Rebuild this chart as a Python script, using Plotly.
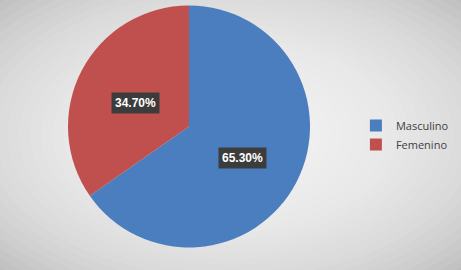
import math
import plotly.graph_objects as go

labels = ["Masculino", "Femenino"]
values = [65.30, 34.70]
colors = ["#4A7EBF", "#C0504D"]

W, H = 461, 270
cx, cy, R = 189.0, 126.5, 121.0  # pie centre / radius in pixels (from top-left)

fig = go.Figure()
fig.add_trace(go.Pie(
    labels=labels, values=values, sort=False, direction="clockwise", rotation=0,
    marker=dict(colors=colors, line=dict(width=0)),
    textinfo="none", hoverinfo="skip",
    domain=dict(x=[(cx - R) / W, (cx + R) / W], y=[(H - cy - R) / H, (H - cy + R) / H]),
))

# background radial gradient (white centre -> grey edges)
shapes = []
n = 30
for i in range(n):
    k = 1.0 - i / n
    hx, hy = 0.5 * 1.45 * k, 0.5 * 1.45 * k
    shapes.append(dict(type="circle", xref="paper", yref="paper",
                       x0=0.5 - hx, x1=0.5 + hx, y0=0.5 - hy, y1=0.5 + hy,
                       fillcolor="white", opacity=0.08, line=dict(width=0), layer="below"))

# data labels with dark boxes, placed at mid-angle of each slice
annotations = []
total = sum(values)
start = 0.0
for lab, v in zip(labels, values):
    mid = (start + v / 2) / total * 2 * math.pi
    start += v
    px = cx + 0.5 * R * math.sin(mid)
    py = cy - 0.5 * R * math.cos(mid) + 4
    annotations.append(dict(x=px / W, y=1 - py / H, xref="paper", yref="paper",
                            xanchor="center", yanchor="middle",
                            text=f"<b>{v:.2f}%</b>", showarrow=False,
                            font=dict(color="white", size=12, family="Liberation Sans"),
                            bgcolor="#3C3C3C", borderpad=3))

fig.update_layout(
    width=W, height=H, margin=dict(l=0, r=0, t=0, b=0, autoexpand=False),
    paper_bgcolor="#B8B8B8", plot_bgcolor="rgba(0,0,0,0)",
    shapes=shapes, annotations=annotations,
    showlegend=True,
    legend=dict(x=0.772, y=0.5, xanchor="left", yanchor="middle",
                font=dict(size=11, family="Open Sans", color="#404040"),
                bgcolor="rgba(0,0,0,0)", itemwidth=30, tracegroupgap=0),
)

fig.write_html("out.html")
